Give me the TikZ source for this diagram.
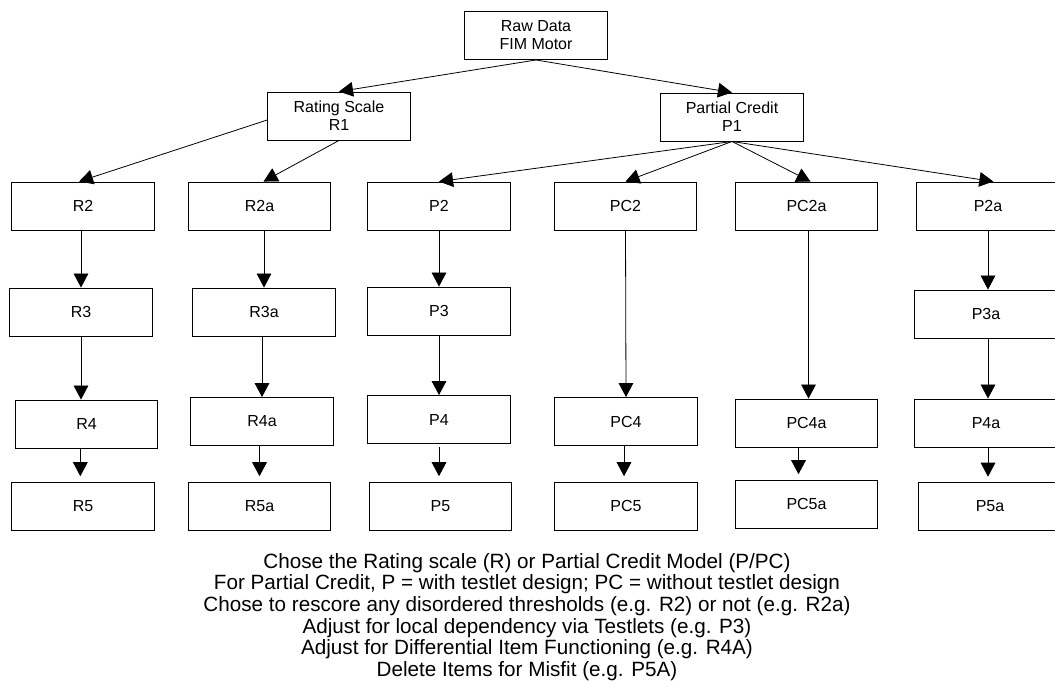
\documentclass[tikz,border=0pt]{standalone}
\usepackage{fontspec}
\setmainfont{Liberation Sans}
\usetikzlibrary{arrows.meta}

\tikzset{
    stage/.style={draw, line width=0.7pt, minimum width=107pt, minimum height=36pt,
        inner sep=2pt, align=center, font=\fontsize{12}{13.5}\selectfont},
    flow/.style={-{Triangle[length=10.5pt,width=11pt]}, line width=0.6pt},
    gap/.style={shorten >=4pt},
}

\begin{document}
\begin{tikzpicture}[x=0.75pt, y=-0.75pt]
        \useasboundingbox (0,0) rectangle (1055,687);

        \node[stage] (raw) at (536,35.5) {Raw Data\\FIM Motor};
        \node[stage] (R1) at (339,116) {Rating Scale\\R1};
        \node[stage] (P1) at (732,117) {Partial Credit\\P1};

        \node[stage] (R2)   at (83,206)    {R2};
        \node[stage] (R2a)  at (259.5,206) {R2a};
        \node[stage] (P2)   at (439,206)   {P2};
        \node[stage] (PC2)  at (625.5,206) {PC2};
        \node[stage] (PC2a) at (806.5,206) {PC2a};
        \node[stage] (P2a)  at (988,206)   {P2a};

        \node[stage] (R3)  at (81,312)  {R3};
        \node[stage] (R3a) at (264,312) {R3a};
        \node[stage] (P3)  at (439,311) {P3};
        \node[stage] (P3a) at (986,314) {P3a};

        \node[stage] (R4)   at (86.5,424)  {R4};
        \node[stage] (R4a)  at (262,421.5) {R4a};
        \node[stage] (P4)   at (439,419.5) {P4};
        \node[stage] (PC4)  at (626,421.5) {PC4};
        \node[stage] (PC4a) at (806.5,423) {PC4a};
        \node[stage] (P4a)  at (986,423)   {P4a};

        \node[stage] (R5)   at (83,506)    {R5};
        \node[stage] (R5a)  at (259.5,506) {R5a};
        \node[stage] (P5)   at (440.5,506) {P5};
        \node[stage] (PC5)  at (626,506)   {PC5};
        \node[stage] (PC5a) at (806.5,504) {PC5a};
        \node[stage] (P5a)  at (990,506.5) {P5a};

        \draw[flow] (raw.south) -- (R1.north);
        \draw[flow] (raw.south) -- (P1.north);
        \draw[flow] ([yshift=-3pt]R1.west) -- ([xshift=-3pt]R2.north);
        \draw[flow] (R1.south) -- ([xshift=3pt]R2a.north);
        \draw[flow] (P1.south) -- (P2.north);
        \draw[flow] (P1.south) -- (PC2.north);
        \draw[flow] (P1.south) -- ([xshift=3pt]PC2a.north);
        \draw[flow] (P1.south) -- ([xshift=4pt]P2a.north);

        \draw[flow] (R3.north |- R2.south) -- (R3.north);
        \draw[flow] (R3.south) -- (R3.south |- R4.north);
        \draw[flow, gap] ([xshift=-2pt]R5.north |- R4.south) -- ([xshift=-2pt]R5.north);
        \draw[flow] (R3a.north |- R2a.south) -- (R3a.north);
        \draw[flow] (R4a.north |- R3a.south) -- (R4a.north);
        \draw[flow, gap] (R5a.north |- R4a.south) -- (R5a.north);
        \draw[flow] (P2.south) -- (P3.north);
        \draw[flow] (P3.south) -- (P4.north);
        \draw[flow, gap] ([yshift=-2pt]P4.south) -- (P4.south |- P5.north);
        \draw[flow] (PC2.south) -- (PC4.north);
        \draw[flow, gap] ([xshift=-1.5pt]PC4.south) -- ([xshift=-1.5pt]PC4.south |- PC5.north);
        \draw[flow] ([xshift=1.5pt]PC2a.south) -- ([xshift=1.5pt]PC2a.south |- PC4a.north);
        \draw[flow, gap] ([xshift=-6pt]PC4a.south) -- ([xshift=-6pt]PC4a.south |- PC5a.north);
        \draw[flow] (P2a.south) -- (P2a.south |- P3a.north);
        \draw[flow] (P3a.south -| P2a.south) -- (P2a.south |- P4a.north);
        \draw[flow, gap] (P4a.south -| P2a.south) -- (P2a.south |- P5a.north);

        \node[align=center, font=\fontsize{15.5}{16.25}\selectfont] (notes) at (527,617)
            {Chose the Rating scale (R) or Partial Credit Model (P/PC)\\
             For Partial Credit, P = with testlet design; PC = without testlet design\\
             Chose to rescore any disordered thresholds (e.g. R2) or not (e.g. R2a)\\
             Adjust for local dependency via Testlets (e.g. P3)\\
             Adjust for Differential Item Functioning (e.g. R4A)\\
             Delete Items for Misfit (e.g. P5A)};
\end{tikzpicture}
\end{document}
